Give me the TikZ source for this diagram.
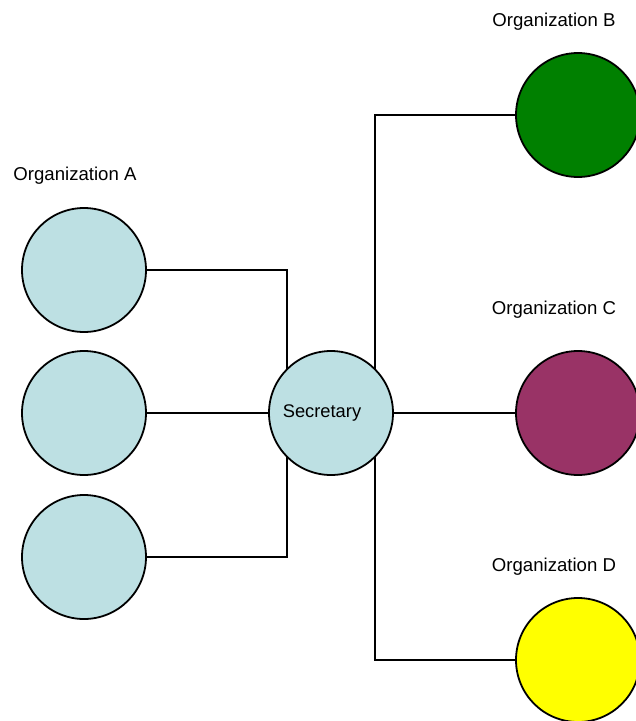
\documentclass[tikz,border=0pt]{standalone}
\usepackage{fontspec}
\setmainfont{Liberation Sans}
\usetikzlibrary{backgrounds}
\definecolor{lblue}{HTML}{BDE0E3}
\definecolor{dgreen}{HTML}{008000}
\definecolor{plum}{HTML}{993366}
\definecolor{yel}{HTML}{FFFF00}
\begin{document}
\begin{tikzpicture}[x=1pt,y=-1pt,
  org/.style={circle,draw=black,line width=1.8pt,minimum size=124pt,inner sep=0pt},
  conn/.style={draw=black,line width=1.4pt},
  lbl/.style={anchor=base,font=\fontsize{18.6}{20}\selectfont,inner sep=0pt}]
\useasboundingbox (0,0) rectangle (636,721);
\node[org,fill=lblue] (a1) at (84,270) {};
\node[org,fill=lblue] (a2) at (84,413) {};
\node[org,fill=lblue] (a3) at (84,557) {};
\node[org,fill=lblue] (sec) at (331,413) {};
\node[font=\fontsize{18.3}{20}\selectfont,inner sep=0pt] (st) at (322,413) {Secretary};
\node[org,fill=dgreen] (b) at (578,115) {};
\node[org,fill=plum] (c) at (578,413) {};
\node[org,fill=yel] (d) at (578,660) {};
\node[lbl] (la) at (75,180) {Organization A};
\node[lbl] (lb) at (554,26) {Organization B};
\node[lbl] (lc) at (554,314) {Organization C};
\node[lbl] (ld) at (554,571) {Organization D};
\coordinate (j1) at (287,270);
\coordinate (j3) at (287,557);
\coordinate (jb) at (375,115);
\coordinate (jd) at (375,660);
\begin{scope}[on background layer]
\draw[conn] (a1.east) -- (j1) -- (j1 |- sec.center);
\draw[conn] (a3.east) -- (j3) -- (j3 |- sec.center);
\draw[conn] (a2.east) -- (sec.west);
\draw[conn] (sec.east) -- (c.west);
\draw[conn] (b.west) -- (jb) -- (jd) -- (d.west);
\end{scope}
\end{tikzpicture}
\end{document}
